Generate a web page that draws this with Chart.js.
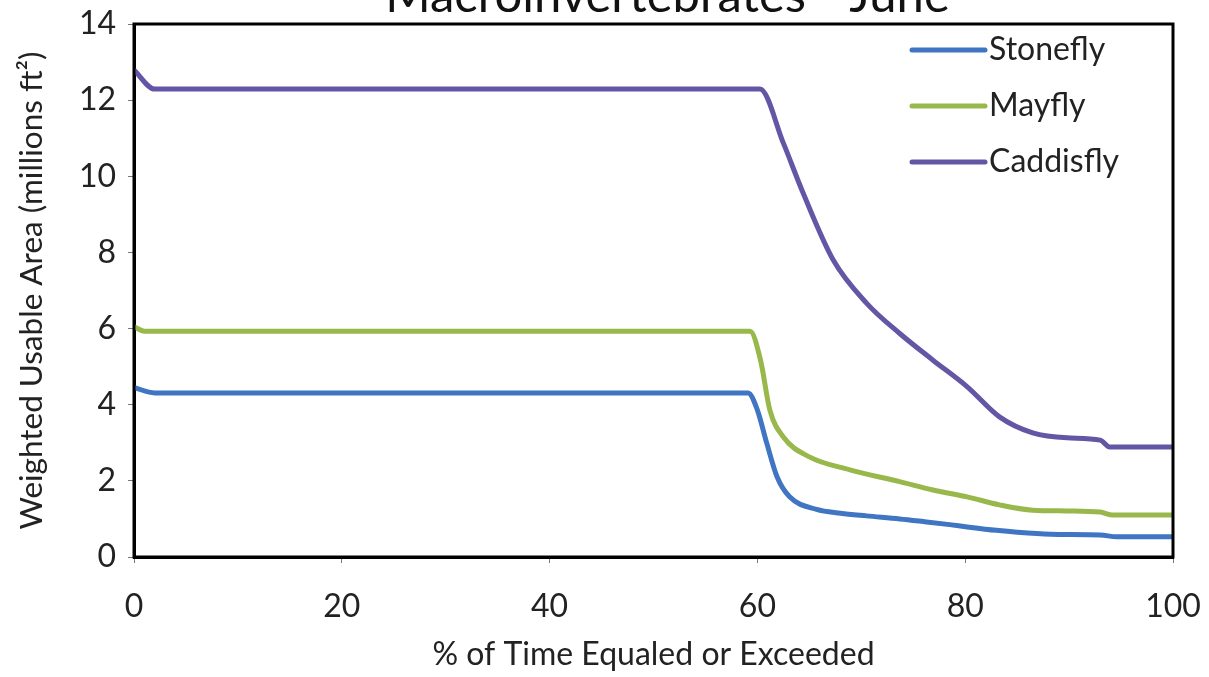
<!DOCTYPE html>
<html>
<head>
<meta charset="utf-8">
<script src="https://cdn.jsdelivr.net/npm/chart.js@4.4.1/dist/chart.umd.min.js"></script>
<style>
  html, body { margin: 0; padding: 0; background: #fff; }
  #wrap { position: relative; width: 1209px; height: 677px; }
</style>
</head>
<body>
<div id="wrap"><canvas id="c" width="1209" height="677"></canvas></div>
<script>
const chartTitle = "Macroinvertebrates - June";
const xAxisTitle = "% of Time Equaled or Exceeded";
const yAxisTitle = "Weighted Usable Area (millions ft\u00B2)";
const seriesNames = ["Stonefly", "Mayfly", "Caddisfly"];
const seriesColors = ["#3f75c2", "#98b84c", "#6556a5"];

const stoneflyX = [0, 2, 59.1, 60, 60.9, 61.9, 63.1, 65.7, 68, 70.5, 73.7, 76, 78.5, 80.2, 83, 85, 88.2, 93, 94.6, 100];
const stoneflyY = [4.45, 4.31, 4.31, 3.86, 2.99, 2.10, 1.58, 1.25, 1.15, 1.08, 1.00, 0.93, 0.85, 0.79, 0.70, 0.65, 0.60, 0.58, 0.53, 0.53];

const mayflyX = [0, 1, 59.3, 60.3, 61.2, 62.5, 65, 68.9, 73.7, 76.9, 80.2, 83.3, 86.5, 89.8, 93, 94.2, 100];
const mayflyY = [6.05, 5.93, 5.93, 5.17, 3.86, 3.15, 2.63, 2.29, 1.98, 1.76, 1.58, 1.37, 1.23, 1.21, 1.18, 1.10, 1.10];

const caddisflyX = [0, 2, 60.25, 62.5, 64.4, 67.3, 70.5, 73.7, 76.9, 80.2, 83.3, 86.5, 89.8, 93, 93.9, 100];
const caddisflyY = [12.79, 12.29, 12.29, 10.87, 9.56, 7.80, 6.67, 5.87, 5.17, 4.47, 3.68, 3.26, 3.13, 3.07, 2.89, 2.89];

const xTicks = [0, 20, 40, 60, 80, 100];
const yTicks = [0, 2, 4, 6, 8, 10, 12, 14];

function pts(xs, ys) { return xs.map((x, i) => ({ x: x, y: ys[i] })); }
const seriesData = [pts(stoneflyX, stoneflyY), pts(mayflyX, mayflyY), pts(caddisflyX, caddisflyY)];

const FONT = "Lato, 'Open Sans', sans-serif";

const frameLegendTitle = {
  id: 'frameLegendTitle',
  afterDatasetsDraw(chart) {
    const { ctx, chartArea } = chart;
    ctx.save();
    ctx.strokeStyle = '#000';
    ctx.lineWidth = 3;
    ctx.strokeRect(chartArea.left, chartArea.top, chartArea.right - chartArea.left, chartArea.bottom - chartArea.top);
    // legend inside plot area, top-right
    const x0 = chartArea.right - 261;
    let y = chartArea.top + 26;
    ctx.font = "32px " + FONT;
    ctx.textBaseline = 'middle';
    ctx.textAlign = 'left';
    chart.data.datasets.forEach(ds => {
      ctx.strokeStyle = ds.borderColor;
      ctx.lineWidth = 5;
      ctx.lineCap = 'round';
      ctx.beginPath();
      ctx.moveTo(x0, y);
      ctx.lineTo(x0 + 73, y);
      ctx.stroke();
      ctx.fillStyle = '#222';
      ctx.fillText(ds.label, x0 + 77, y);
      y += 56;
    });
    // chart title, partly cut off at the top edge
    ctx.font = "49px " + FONT;
    ctx.textAlign = 'center';
    ctx.textBaseline = 'alphabetic';
    ctx.fillStyle = '#111';
    ctx.fillText(chartTitle, (chartArea.left + chartArea.right) / 2 + 14, chartArea.top - 12);
    ctx.restore();
  }
};

new Chart(document.getElementById('c'), {
  type: 'line',
  data: {
    datasets: seriesNames.map((name, i) => ({
      label: name,
      data: seriesData[i],
      borderColor: seriesColors[i],
      backgroundColor: seriesColors[i],
      borderWidth: 5,
      pointRadius: 0,
      cubicInterpolationMode: 'monotone',
      fill: false
    }))
  },
  options: {
    responsive: false,
    animation: false,
    layout: { padding: { left: 0, right: 36, top: 24, bottom: 0 } },
    plugins: {
      legend: { display: false },
      tooltip: { enabled: false },
      title: { display: false }
    },
    scales: {
      x: {
        type: 'linear',
        min: 0, max: 100,
        afterBuildTicks: (s) => { s.ticks = xTicks.map(v => ({ value: v })); },
        afterFit: (s) => { s.height = 120; s.paddingLeft = 0; s.paddingRight = 0; },
        grid: { display: true, drawOnChartArea: false, tickLength: 6, color: '#777' },
        border: { display: true, color: '#000', width: 3 },
        ticks: { color: '#222', font: { family: FONT, size: 32 }, padding: 24, maxRotation: 0 },
        title: { display: true, text: xAxisTitle, color: '#222', font: { family: FONT, size: 32 }, padding: { top: 0, bottom: 3 } }
      },
      y: {
        type: 'linear',
        min: 0, max: 14,
        afterBuildTicks: (s) => { s.ticks = yTicks.map(v => ({ value: v })); },
        afterFit: (s) => { s.width = 134; s.paddingTop = 0; s.paddingBottom = 0; },
        grid: { display: true, drawOnChartArea: false, tickLength: 6, color: '#777' },
        border: { display: true, color: '#000', width: 3 },
        ticks: { color: '#222', font: { family: FONT, size: 32 }, padding: 12 },
        title: { display: true, text: yAxisTitle, color: '#222', font: { family: FONT, size: 31.5 }, padding: { top: 13, bottom: 0 } }
      }
    }
  },
  plugins: [frameLegendTitle]
});
</script>
</body>
</html>
